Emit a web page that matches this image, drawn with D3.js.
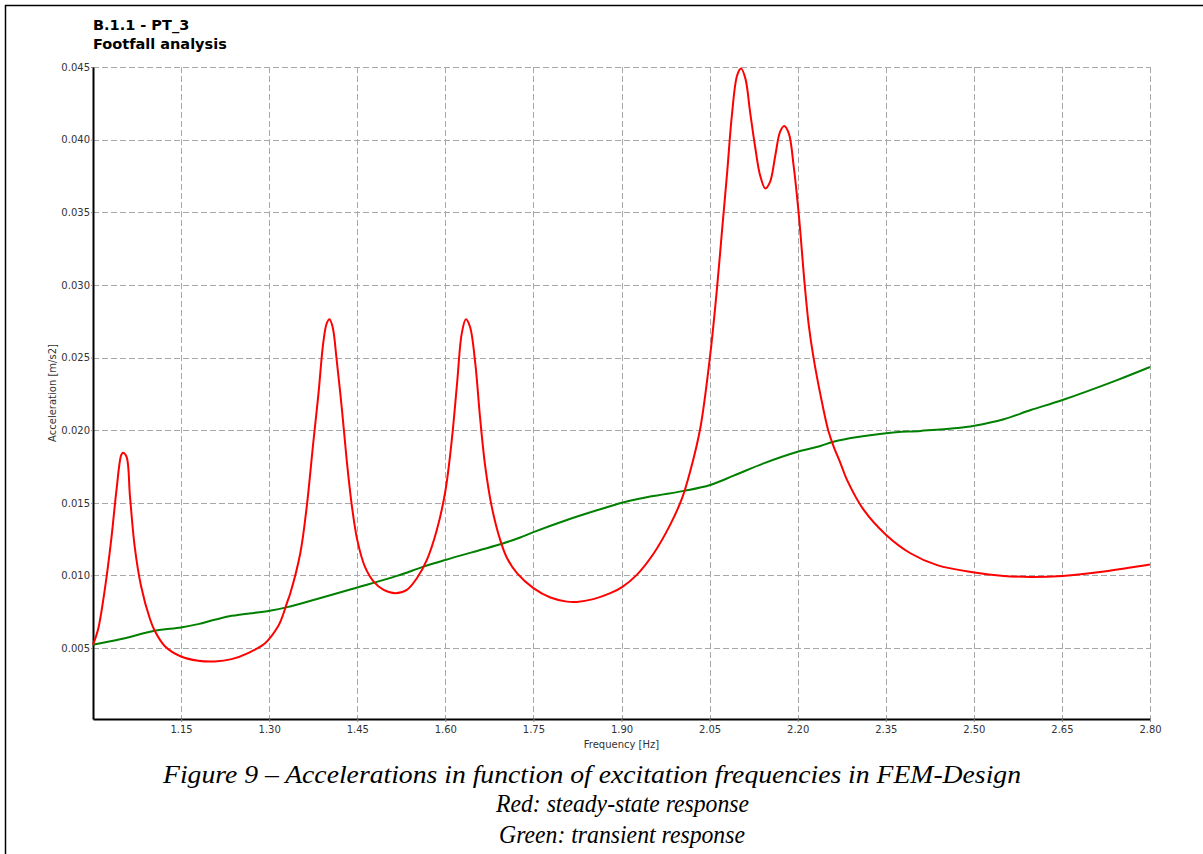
<!DOCTYPE html>
<html>
<head>
<meta charset="utf-8">
<script src="https://cdn.jsdelivr.net/npm/d3@7"></script>
<style>
  html, body { margin: 0; padding: 0; background: #fff; }
  svg { display: block; }
</style>
</head>
<body>
<svg id="chart" width="1203" height="854"></svg>
<script>
// Steady-state response (red): frequency [Hz] / acceleration [m/s2]
const steadyFreq = [
  1.000, 1.0085, 1.020, 1.031, 1.040, 1.048, 1.051, 1.057, 1.063, 1.071,
  1.082, 1.097, 1.105, 1.122, 1.150, 1.179, 1.207, 1.236, 1.264, 1.293,
  1.315, 1.3215, 1.331, 1.336, 1.353, 1.364, 1.375, 1.384, 1.392, 1.398,
  1.4027, 1.408, 1.415, 1.424, 1.432, 1.441, 1.450, 1.463, 1.478, 1.495,
  1.515, 1.5345, 1.5515, 1.5686, 1.5856, 1.600, 1.611, 1.620, 1.628, 1.635,
  1.642, 1.651, 1.659, 1.668, 1.679, 1.693, 1.705, 1.722, 1.750, 1.779,
  1.807, 1.824, 1.852, 1.881, 1.901, 1.926, 1.955, 1.983, 2.003, 2.0172,
  2.034, 2.051, 2.0626, 2.071, 2.080, 2.088, 2.097, 2.1036, 2.111, 2.119,
  2.128, 2.136, 2.145, 2.153, 2.162, 2.170, 2.177, 2.185, 2.193, 2.202,
  2.212, 2.219, 2.227, 2.239, 2.252, 2.261, 2.273, 2.284, 2.3125, 2.3507,
  2.392, 2.4375, 2.501, 2.551, 2.597, 2.651, 2.7215, 2.800
];
const steadyAcc = [
  0.00523, 0.00626, 0.00901, 0.01245, 0.01589, 0.01829, 0.01845, 0.01818, 0.01543, 0.01199,
  0.00924, 0.00700, 0.00620, 0.00515, 0.00442, 0.00413, 0.00408, 0.00424, 0.00466, 0.00534,
  0.00649, 0.00706, 0.00820, 0.00878, 0.01153, 0.01474, 0.01910, 0.02254, 0.02598, 0.02735,
  0.02763, 0.02712, 0.02483, 0.02139, 0.01795, 0.01474, 0.01245, 0.01061, 0.00958, 0.00901,
  0.00878, 0.00901, 0.00981, 0.01107, 0.01314, 0.01580, 0.01933, 0.02323, 0.02666, 0.02763,
  0.02712, 0.02460, 0.02093, 0.01749, 0.01474, 0.01250, 0.01120, 0.01016, 0.00913, 0.00848,
  0.00820, 0.00818, 0.00837, 0.00878, 0.00920, 0.01004, 0.01153, 0.01350, 0.01530, 0.01720,
  0.02010, 0.02517, 0.02976, 0.03365, 0.03778, 0.04168, 0.04443, 0.04489, 0.04420, 0.04190,
  0.03939, 0.03755, 0.03664, 0.03709, 0.03893, 0.04053, 0.04094, 0.04042, 0.03824, 0.03480,
  0.03000, 0.02720, 0.02500, 0.02240, 0.02000, 0.01890, 0.01772, 0.01658, 0.01451, 0.01279,
  0.01153, 0.01071, 0.01020, 0.00997, 0.00990, 0.00997, 0.01027, 0.01075
];

// Transient response (green)
const transientFreq = [
  1.000, 1.048, 1.105, 1.150, 1.179, 1.207, 1.236, 1.301, 1.331, 1.450,
  1.5175, 1.563, 1.600, 1.699, 1.7275, 1.750, 1.807, 1.864, 1.901, 1.949,
  2.009, 2.051, 2.091, 2.142, 2.200, 2.2387, 2.261, 2.3507, 2.409, 2.466,
  2.501, 2.551, 2.597, 2.651, 2.744, 2.800
];
const transientAcc = [
  0.00523, 0.00562, 0.00619, 0.00642, 0.00665, 0.00695, 0.00722, 0.00757, 0.00782, 0.00917,
  0.00997, 0.01061, 0.01107, 0.01222, 0.01261, 0.01298, 0.01382, 0.01456, 0.01501, 0.01543,
  0.01584, 0.01623, 0.01687, 0.01772, 0.01852, 0.01891, 0.01921, 0.01979, 0.01995, 0.02013,
  0.02031, 0.02075, 0.02139, 0.02208, 0.02345, 0.02435
];

// Axis ticks
const xTicks = [1.15, 1.30, 1.45, 1.60, 1.75, 1.90, 2.05, 2.20, 2.35, 2.50, 2.65, 2.80];
const yTicks = [0.005, 0.010, 0.015, 0.020, 0.025, 0.030, 0.035, 0.040, 0.045];

const titleLines = ["B.1.1 - PT_3", "Footfall analysis"];
const captionLines = [
  "Figure 9 \u2013 Accelerations in function of excitation frequencies in FEM-Design",
  "Red: steady-state response",
  "Green: transient response"
];

const svg = d3.select("#chart");

// Page frame (top and left rules)
svg.append("line").attr("x1", 5).attr("x2", 1203).attr("y1", 5.5).attr("y2", 5.5)
  .attr("stroke", "#000").attr("stroke-width", 1.5);
svg.append("line").attr("x1", 5.5).attr("x2", 5.5).attr("y1", 5).attr("y2", 854)
  .attr("stroke", "#000").attr("stroke-width", 1.5);

const plot = { left: 93, right: 1150, top: 67, bottom: 719 };

const x = d3.scaleLinear().domain([1.0, 2.8]).range([plot.left, plot.right]);
const y = d3.scaleLinear().domain([0.00012, 0.045]).range([plot.bottom, plot.top]);

const labelFont = "'DejaVu Sans', Verdana, sans-serif";

// Grid
const grid = svg.append("g").attr("stroke", "#a8a8a8").attr("stroke-width", 1)
  .attr("stroke-dasharray", "6,3");
grid.selectAll("line.h").data(yTicks).join("line").attr("class", "h")
  .attr("x1", plot.left).attr("x2", plot.right)
  .attr("y1", d => Math.round(y(d)) + 0.5).attr("y2", d => Math.round(y(d)) + 0.5);
grid.selectAll("line.v").data(xTicks).join("line").attr("class", "v")
  .attr("y1", plot.top).attr("y2", plot.bottom)
  .attr("x1", d => Math.round(x(d)) + 0.5).attr("x2", d => Math.round(x(d)) + 0.5);

// Axes
const xAxis = d3.axisBottom(x).tickValues(xTicks).tickFormat(d3.format(".2f"))
  .tickSize(3).tickSizeOuter(0);
const yAxis = d3.axisLeft(y).tickValues(yTicks).tickFormat(d3.format(".3f"))
  .tickSize(2).tickSizeOuter(0);

const gx = svg.append("g").attr("transform", `translate(0,${plot.bottom})`).call(xAxis);
const gy = svg.append("g").attr("transform", `translate(${plot.left},0)`).call(yAxis);

[gx, gy].forEach(g => {
  g.select(".domain").attr("stroke", "#000").attr("stroke-width", 2);
  g.selectAll(".tick line").attr("stroke", "#888");
  g.selectAll(".tick text").attr("fill", "#333")
    .style("font-family", labelFont).style("font-size", "10px");
});
gx.selectAll(".tick text").attr("dy", "0.71em").attr("y", 7);
gy.selectAll(".tick text").attr("x", -3);

// Axis titles
svg.append("text").attr("x", (plot.left + plot.right) / 2).attr("y", 748)
  .attr("text-anchor", "middle").attr("fill", "#333")
  .style("font-family", labelFont).style("font-size", "10px")
  .text("Frequency [Hz]");
svg.append("text")
  .attr("transform", "translate(56,393) rotate(-90)")
  .attr("text-anchor", "middle").attr("fill", "#333")
  .style("font-family", labelFont).style("font-size", "10px")
  .text("Acceleration [m/s2]");

// Response curves
const line = d3.line()
  .x(d => x(d[0])).y(d => y(d[1]))
  .curve(d3.curveCatmullRom.alpha(0.5));

const transient = transientFreq.map((f, i) => [f, transientAcc[i]]);
const steady = steadyFreq.map((f, i) => [f, steadyAcc[i]]);

svg.append("path").datum(transient).attr("d", line)
  .attr("fill", "none").attr("stroke", "#008000").attr("stroke-width", 2);
svg.append("path").datum(steady).attr("d", line)
  .attr("fill", "none").attr("stroke", "#ff0000").attr("stroke-width", 2);

// Heading
svg.selectAll("text.title").data(titleLines).join("text").attr("class", "title")
  .attr("x", plot.left).attr("y", (d, i) => 30 + i * 18.5)
  .attr("fill", "#000")
  .style("font-family", labelFont).style("font-size", "14.5px").style("font-weight", "bold")
  .text(d => d);

// Figure caption (condensed italic serif)
const capX = [163, 496, 499];
const capY = [783, 812, 843];
const capW = [858, 253, 246];
svg.selectAll("text.caption").data(captionLines).join("text").attr("class", "caption")
  .attr("x", (d, i) => capX[i]).attr("y", (d, i) => capY[i])
  .attr("textLength", (d, i) => capW[i])
  .attr("lengthAdjust", "spacingAndGlyphs")
  .attr("fill", "#000")
  .style("font-family", "'Liberation Serif', 'Times New Roman', serif")
  .style("font-style", "italic").style("font-size", "26px")
  .text(d => d);
</script>
</body>
</html>
